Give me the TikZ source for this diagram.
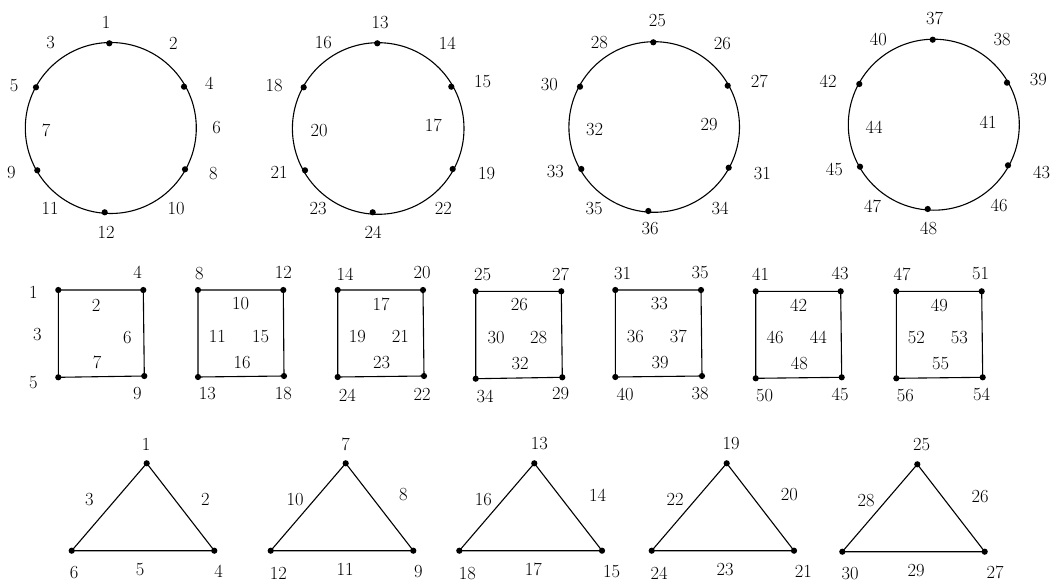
\documentclass[tikz,border=0pt]{standalone}
\begin{document}
\begin{tikzpicture}[x=1pt,y=-1pt,
  lbl/.style={inner sep=0pt,font=\fontsize{18.5}{22}\selectfont},
  edge/.style={line width=1.1pt},
  vdot/.style={circle,fill=black,inner sep=0pt,minimum size=6.2pt}]
\useasboundingbox (0,0) rectangle (1051,580);
% ---------- circles ----------
\coordinate (c1) at (110.8,128);
\coordinate (c2) at (378.2,128.5);
\coordinate (c3) at (654.2,127);
\coordinate (c4) at (933.8,124.7);
\draw[edge] (c1) circle[radius=85.5pt];
\draw[edge] (c2) circle[radius=85.8pt];
\draw[edge] (c3) circle[radius=85.3pt];
\draw[edge] (c4) circle[radius=85.5pt];
% circle 1 dots
\node[vdot] (a1) at (109.3,43.3) {};
\node[vdot] (a2) at (184,86.7) {};
\node[vdot] (a3) at (185,169.3) {};
\node[vdot] (a4) at (104.7,212.3) {};
\node[vdot] (a5) at (37.3,170.3) {};
\node[vdot] (a6) at (36,87.3) {};
% circle 2 dots
\node[vdot] (b1) at (377.3,43.3) {};
\node[vdot] (b2) at (451.3,86.7) {};
\node[vdot] (b3) at (452.7,169) {};
\node[vdot] (b4) at (372.7,212.3) {};
\node[vdot] (b5) at (305,170.3) {};
\node[vdot] (b6) at (303.7,87.3) {};
% circle 3 dots
\node[vdot] (d1) at (653.3,42.3) {};
\node[vdot] (d2) at (727.7,85.7) {};
\node[vdot] (d3) at (728.7,167.7) {};
\node[vdot] (d4) at (648.3,211) {};
\node[vdot] (d5) at (581.3,169) {};
\node[vdot] (d6) at (580,86.7) {};
% circle 4 dots
\node[vdot] (e1) at (932.7,39.7) {};
\node[vdot] (e2) at (1007,82.7) {};
\node[vdot] (e3) at (1008,165.3) {};
\node[vdot] (e4) at (927.7,209) {};
\node[vdot] (e5) at (860,166.7) {};
\node[vdot] (e6) at (859.3,84) {};
% circle 1 labels
\node[lbl] (la1) at (106,22.7) {1};
\node[lbl] (la2) at (173.3,43.3) {2};
\node[lbl] (la3) at (50.7,42.7) {3};
\node[lbl] (la4) at (209.3,83.3) {4};
\node[lbl] (la5) at (14,86) {5};
\node[lbl] (la6) at (216.7,127.3) {6};
\node[lbl] (la7) at (46,130) {7};
\node[lbl] (la8) at (213.3,174) {8};
\node[lbl] (la9) at (11.3,172.3) {9};
\node[lbl] (la10) at (176,208.7) {10};
\node[lbl] (la11) at (50,208.7) {11};
\node[lbl] (la12) at (106,232) {12};
% circle 2 labels
\node[lbl] (lb13) at (380,22.7) {13};
\node[lbl] (lb14) at (447.3,43.3) {14};
\node[lbl] (lb15) at (482.7,82) {15};
\node[lbl] (lb16) at (323.3,42.7) {16};
\node[lbl] (lb17) at (433.3,125.3) {17};
\node[lbl] (lb18) at (274,86) {18};
\node[lbl] (lb19) at (486.7,174) {19};
\node[lbl] (lb20) at (319,130.7) {20};
\node[lbl] (lb21) at (279,172.7) {21};
\node[lbl] (lb22) at (443.3,208.7) {22};
\node[lbl] (lb23) at (318,208.7) {23};
\node[lbl] (lb24) at (373,232) {24};
% circle 3 labels
\node[lbl] (ld25) at (657.3,20.7) {25};
\node[lbl] (ld26) at (722.3,43.3) {26};
\node[lbl] (ld27) at (759.3,81.7) {27};
\node[lbl] (ld28) at (599.3,42.7) {28};
\node[lbl] (ld29) at (709,125) {29};
\node[lbl] (ld30) at (549.3,85) {30};
\node[lbl] (ld31) at (762.3,174) {31};
\node[lbl] (ld32) at (594.7,129.3) {32};
\node[lbl] (ld33) at (555.3,171.7) {33};
\node[lbl] (ld34) at (720,208.3) {34};
\node[lbl] (ld35) at (594,208.3) {35};
\node[lbl] (ld36) at (650,228.7) {36};
% circle 4 labels
\node[lbl] (le37) at (934.7,18.7) {37};
\node[lbl] (le38) at (1002,40) {38};
\node[lbl] (le39) at (1038.3,79.3) {39};
\node[lbl] (le40) at (878.3,39.3) {40};
\node[lbl] (le41) at (988,122.7) {41};
\node[lbl] (le42) at (828,81.7) {42};
\node[lbl] (le43) at (1041.7,172) {43};
\node[lbl] (le44) at (874,127.3) {44};
\node[lbl] (le45) at (834.3,169.3) {45};
\node[lbl] (le46) at (999,205.3) {46};
\node[lbl] (le47) at (872.7,206) {47};
\node[lbl] (le48) at (928.7,228) {48};
% ---------- squares ----------
% square 1
\node[vdot] (s1a) at (58.3,290) {};
\node[vdot] (s1b) at (143.3,290) {};
\node[vdot] (s1c) at (144.3,376) {};
\node[vdot] (s1d) at (58.3,377.3) {};
\draw[edge] (s1a.center) -- (s1b.center) -- (s1c.center) -- (s1d.center) -- cycle;
\node[lbl] at (33.3,292) {1};
\node[lbl] at (137.7,272.7) {4};
\node[lbl] at (96,305) {2};
\node[lbl] at (37.3,335) {3};
\node[lbl] at (127.3,337.3) {6};
\node[lbl] at (97,362.7) {7};
\node[lbl] at (33.3,382.7) {5};
\node[lbl] at (137.3,393.3) {9};
% square 2
\node[vdot] (s2a) at (198,290) {};
\node[vdot] (s2b) at (283.3,290) {};
\node[vdot] (s2c) at (284,376) {};
\node[vdot] (s2d) at (198,377) {};
\draw[edge] (s2a.center) -- (s2b.center) -- (s2c.center) -- (s2d.center) -- cycle;
\node[lbl] at (199.3,274) {8};
\node[lbl] at (283.3,272.7) {12};
\node[lbl] at (240.7,304) {10};
\node[lbl] at (217.3,336.7) {11};
\node[lbl] at (260.7,336.7) {15};
\node[lbl] at (242,362.7) {16};
\node[lbl] at (207.3,394) {13};
\node[lbl] at (283.3,393.3) {18};
% square 3
\node[vdot] (s3a) at (337.7,290) {};
\node[vdot] (s3b) at (423,290) {};
\node[vdot] (s3c) at (424,376) {};
\node[vdot] (s3d) at (337.7,377) {};
\draw[edge] (s3a.center) -- (s3b.center) -- (s3c.center) -- (s3d.center) -- cycle;
\node[lbl] at (345,274) {14};
\node[lbl] at (422,272.7) {20};
\node[lbl] at (381,304) {17};
\node[lbl] at (357.3,336.7) {19};
\node[lbl] at (400.3,336.7) {21};
\node[lbl] at (381.7,362.7) {23};
\node[lbl] at (347.3,395) {24};
\node[lbl] at (422,394) {22};
% square 4
\node[vdot] (s4a) at (475.7,291.3) {};
\node[vdot] (s4b) at (561.3,291.3) {};
\node[vdot] (s4c) at (562.3,377.3) {};
\node[vdot] (s4d) at (475.7,378.7) {};
\draw[edge] (s4a.center) -- (s4b.center) -- (s4c.center) -- (s4d.center) -- cycle;
\node[lbl] at (482.7,275) {25};
\node[lbl] at (560.7,274) {27};
\node[lbl] at (519.3,305) {26};
\node[lbl] at (496,337.7) {30};
\node[lbl] at (538.7,337.7) {28};
\node[lbl] at (520,363.3) {32};
\node[lbl] at (485,396) {34};
\node[lbl] at (560.7,394) {29};
% square 5
\node[vdot] (s5a) at (615.3,290) {};
\node[vdot] (s5b) at (701,290) {};
\node[vdot] (s5c) at (702,376) {};
\node[vdot] (s5d) at (615.3,377) {};
\draw[edge] (s5a.center) -- (s5b.center) -- (s5c.center) -- (s5d.center) -- cycle;
\node[lbl] at (622.7,274) {31};
\node[lbl] at (700,272.7) {35};
\node[lbl] at (659.3,304) {33};
\node[lbl] at (635.3,336.7) {36};
\node[lbl] at (678.3,336.7) {37};
\node[lbl] at (660,362.7) {39};
\node[lbl] at (625,394) {40};
\node[lbl] at (700,393.3) {38};
% square 6
\node[vdot] (s6a) at (755.7,291.3) {};
\node[vdot] (s6b) at (840.7,291.3) {};
\node[vdot] (s6c) at (841.7,377.3) {};
\node[vdot] (s6d) at (755.7,378.3) {};
\draw[edge] (s6a.center) -- (s6b.center) -- (s6c.center) -- (s6d.center) -- cycle;
\node[lbl] at (760.7,274) {41};
\node[lbl] at (840,273.3) {43};
\node[lbl] at (798.7,305) {42};
\node[lbl] at (775,337.7) {46};
\node[lbl] at (818.3,337.7) {44};
\node[lbl] at (799.3,363.3) {48};
\node[lbl] at (764.7,395.3) {50};
\node[lbl] at (840,394) {45};
% square 7
\node[vdot] (s7a) at (896.3,291.3) {};
\node[vdot] (s7b) at (981.7,291.3) {};
\node[vdot] (s7c) at (982.7,377.3) {};
\node[vdot] (s7d) at (896.3,378.3) {};
\draw[edge] (s7a.center) -- (s7b.center) -- (s7c.center) -- (s7d.center) -- cycle;
\node[lbl] at (902,274) {47};
\node[lbl] at (980.7,273.3) {51};
\node[lbl] at (939.3,305) {49};
\node[lbl] at (916.3,337.7) {52};
\node[lbl] at (959.3,337.7) {53};
\node[lbl] at (940.7,363.3) {55};
\node[lbl] at (905.3,395.3) {56};
\node[lbl] at (981.7,394) {54};
% ---------- triangles ----------
% triangle 1
\node[vdot] (t1a) at (146.7,463.3) {};
\node[vdot] (t1b) at (71.7,550.7) {};
\node[vdot] (t1c) at (214.3,550.7) {};
\draw[edge] (t1a.center) -- (t1b.center) -- (t1c.center) -- cycle;
\node[lbl] at (146,444) {1};
\node[lbl] at (89.3,499.3) {3};
\node[lbl] at (205.3,499.3) {2};
\node[lbl] at (74,572.7) {6};
\node[lbl] at (140,570) {5};
\node[lbl] at (218.7,571.7) {4};
% triangle 2
\node[vdot] (t2a) at (345.7,463.3) {};
\node[vdot] (t2b) at (270.7,550.7) {};
\node[vdot] (t2c) at (413.3,550.7) {};
\draw[edge] (t2a.center) -- (t2b.center) -- (t2c.center) -- cycle;
\node[lbl] at (345.7,444) {7};
\node[lbl] at (295,499.3) {10};
\node[lbl] at (403.3,495) {8};
\node[lbl] at (278.3,573.3) {12};
\node[lbl] at (345,569.3) {11};
\node[lbl] at (418.3,571.7) {9};
% triangle 3
\node[vdot] (t3a) at (534.3,463.3) {};
\node[vdot] (t3b) at (459.3,550.7) {};
\node[vdot] (t3c) at (602,550.7) {};
\draw[edge] (t3a.center) -- (t3b.center) -- (t3c.center) -- cycle;
\node[lbl] at (539.3,443.3) {13};
\node[lbl] at (483.3,499.3) {16};
\node[lbl] at (597.7,495) {14};
\node[lbl] at (467.3,573.3) {18};
\node[lbl] at (533.3,569.3) {17};
\node[lbl] at (611.7,571.7) {15};
% triangle 4
\node[vdot] (t4a) at (726.7,463.3) {};
\node[vdot] (t4b) at (651.7,550.7) {};
\node[vdot] (t4c) at (794,550.7) {};
\draw[edge] (t4a.center) -- (t4b.center) -- (t4c.center) -- cycle;
\node[lbl] at (731,443.3) {19};
\node[lbl] at (675,499.3) {22};
\node[lbl] at (789.3,495) {20};
\node[lbl] at (659,573.3) {24};
\node[lbl] at (725,569.3) {23};
\node[lbl] at (803.3,571.7) {21};
% triangle 5
\node[vdot] (t5a) at (917.3,464.3) {};
\node[vdot] (t5b) at (842.3,551.7) {};
\node[vdot] (t5c) at (984.7,551.7) {};
\draw[edge] (t5a.center) -- (t5b.center) -- (t5c.center) -- cycle;
\node[lbl] at (921.7,445) {25};
\node[lbl] at (866,500.7) {28};
\node[lbl] at (980,496.7) {26};
\node[lbl] at (850,574) {30};
\node[lbl] at (916,570.7) {29};
\node[lbl] at (995,572.7) {27};
\end{tikzpicture}
\end{document}
